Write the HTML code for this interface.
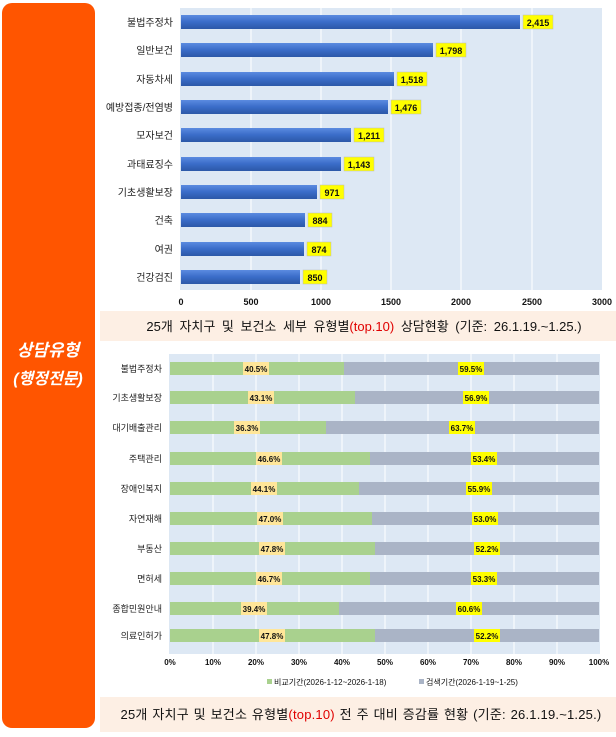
<!DOCTYPE html>
<html><head><meta charset="utf-8"><style>
body{margin:0;background:#fff;width:616px;height:732px;overflow:hidden;font-family:"Liberation Sans","Noto Sans CJK KR",sans-serif}
</style></head><body>
<svg width="616" height="732" xmlns="http://www.w3.org/2000/svg" font-family="Liberation Sans, Noto Sans CJK KR, sans-serif">
<defs>
<linearGradient id="bg1" x1="0" y1="0" x2="0" y2="1"><stop offset="0" stop-color="#5b8be0"/><stop offset="0.5" stop-color="#3a6cc8"/><stop offset="1" stop-color="#2c58a8"/></linearGradient>
</defs>
<rect x="2" y="3" width="93" height="725" rx="10" fill="#ff5500"/>
<text x="48" y="356" fill="#fff" font-size="17" font-weight="bold" font-style="italic" text-anchor="middle">상담유형</text>
<text x="48" y="384" fill="#fff" font-size="16" font-weight="bold" font-style="italic" text-anchor="middle">(행정전문)</text>

<rect x="180" y="8" width="422" height="282" fill="#dde8f4"/>
<g stroke="#fff" stroke-width="1">
<line x1="251" y1="8" x2="251" y2="290"/><line x1="321" y1="8" x2="321" y2="290"/><line x1="391" y1="8" x2="391" y2="290"/><line x1="461" y1="8" x2="461" y2="290"/><line x1="532" y1="8" x2="532" y2="290"/>
</g>
<g font-size="10" fill="#222" text-anchor="end">
<text x="173" y="26">불법주정차</text><text x="173" y="54">일반보건</text><text x="173" y="83">자동차세</text><text x="173" y="111">예방접종/전염병</text><text x="173" y="139">모자보건</text><text x="173" y="168">과태료징수</text><text x="173" y="196">기초생활보장</text><text x="173" y="224">건축</text><text x="173" y="253">여권</text><text x="173" y="281">건강검진</text>
</g>
<g fill="url(#bg1)">
<rect x="181" y="15" width="339" height="14"/><rect x="181" y="43" width="252" height="14"/><rect x="181" y="72" width="213" height="14"/><rect x="181" y="100" width="207" height="14"/><rect x="181" y="128" width="170" height="14"/><rect x="181" y="157" width="160" height="14"/><rect x="181" y="185" width="136" height="14"/><rect x="181" y="213" width="124" height="14"/><rect x="181" y="242" width="123" height="14"/><rect x="181" y="270" width="119" height="14"/>
</g>
<g fill="#ffff00" stroke="#bbb" stroke-width="0.5">
<rect x="523" y="15" width="30" height="14"/><rect x="436" y="43" width="30" height="14"/><rect x="397" y="72" width="30" height="14"/><rect x="391" y="100" width="30" height="14"/><rect x="354" y="128" width="30" height="14"/><rect x="344" y="157" width="30" height="14"/><rect x="320" y="185" width="24" height="14"/><rect x="308" y="213" width="24" height="14"/><rect x="307" y="242" width="24" height="14"/><rect x="303" y="270" width="24" height="14"/>
</g>
<g font-size="9" font-weight="bold" fill="#111" text-anchor="middle">
<text x="538" y="26">2,415</text><text x="451" y="54">1,798</text><text x="412" y="83">1,518</text><text x="406" y="111">1,476</text><text x="369" y="139">1,211</text><text x="359" y="168">1,143</text><text x="332" y="196">971</text><text x="320" y="224">884</text><text x="319" y="253">874</text><text x="315" y="281">850</text>
</g>
<g font-size="9" font-weight="bold" fill="#111" text-anchor="middle">
<text x="181" y="305">0</text><text x="251" y="305">500</text><text x="321" y="305">1000</text><text x="391" y="305">1500</text><text x="461" y="305">2000</text><text x="532" y="305">2500</text><text x="602" y="305">3000</text>
</g>
<rect x="100" y="311" width="516" height="30" fill="#fdefe4"/>
<text x="364" y="331" font-size="13" text-anchor="middle" fill="#111" word-spacing="3">25개 자치구 및 보건소 세부 유형별<tspan fill="#e00000">(top.10)</tspan> 상담현황  (기준: 26.1.19.~1.25.)</text>

<rect x="169" y="354" width="431" height="300" fill="#dde8f4"/>
<g stroke="#fff" stroke-width="1">
<line x1="213" y1="354" x2="213" y2="654"/><line x1="256" y1="354" x2="256" y2="654"/><line x1="299" y1="354" x2="299" y2="654"/><line x1="342" y1="354" x2="342" y2="654"/><line x1="385" y1="354" x2="385" y2="654"/><line x1="428" y1="354" x2="428" y2="654"/><line x1="471" y1="354" x2="471" y2="654"/><line x1="514" y1="354" x2="514" y2="654"/><line x1="557" y1="354" x2="557" y2="654"/>
</g>
<g font-size="9" fill="#222" text-anchor="end">
<text x="162" y="372">불법주정차</text><text x="162" y="401">기초생활보장</text><text x="162" y="431">대기배출관리</text><text x="162" y="462">주택관리</text><text x="162" y="492">장애인복지</text><text x="162" y="522">자연재해</text><text x="162" y="552">부동산</text><text x="162" y="582">면허세</text><text x="162" y="612">종합민원안내</text><text x="162" y="639">의료인허가</text>
</g>
<g>
<rect x="170" y="362" width="429" height="13" fill="#aab4c6"/><rect x="170" y="362" width="174" height="13" fill="#a9d18e"/>
<rect x="170" y="391" width="429" height="13" fill="#aab4c6"/><rect x="170" y="391" width="185" height="13" fill="#a9d18e"/>
<rect x="170" y="421" width="429" height="13" fill="#aab4c6"/><rect x="170" y="421" width="156" height="13" fill="#a9d18e"/>
<rect x="170" y="452" width="429" height="13" fill="#aab4c6"/><rect x="170" y="452" width="200" height="13" fill="#a9d18e"/>
<rect x="170" y="482" width="429" height="13" fill="#aab4c6"/><rect x="170" y="482" width="189" height="13" fill="#a9d18e"/>
<rect x="170" y="512" width="429" height="13" fill="#aab4c6"/><rect x="170" y="512" width="202" height="13" fill="#a9d18e"/>
<rect x="170" y="542" width="429" height="13" fill="#aab4c6"/><rect x="170" y="542" width="205" height="13" fill="#a9d18e"/>
<rect x="170" y="572" width="429" height="13" fill="#aab4c6"/><rect x="170" y="572" width="200" height="13" fill="#a9d18e"/>
<rect x="170" y="602" width="429" height="13" fill="#aab4c6"/><rect x="170" y="602" width="169" height="13" fill="#a9d18e"/>
<rect x="170" y="629" width="429" height="13" fill="#aab4c6"/><rect x="170" y="629" width="205" height="13" fill="#a9d18e"/>
</g>
<g font-size="8" font-weight="bold" fill="#111" text-anchor="middle">
<g fill="#ffe699"><rect x="243" y="362" width="26" height="13"/><rect x="248" y="391" width="26" height="13"/><rect x="234" y="421" width="26" height="13"/><rect x="256" y="452" width="26" height="13"/><rect x="251" y="482" width="26" height="13"/><rect x="257" y="512" width="26" height="13"/><rect x="259" y="542" width="26" height="13"/><rect x="256" y="572" width="26" height="13"/><rect x="241" y="602" width="26" height="13"/><rect x="259" y="629" width="26" height="13"/></g>
<g fill="#ffff00"><rect x="458" y="362" width="26" height="13"/><rect x="463" y="391" width="26" height="13"/><rect x="449" y="421" width="26" height="13"/><rect x="471" y="452" width="26" height="13"/><rect x="466" y="482" width="26" height="13"/><rect x="472" y="512" width="26" height="13"/><rect x="474" y="542" width="26" height="13"/><rect x="471" y="572" width="26" height="13"/><rect x="456" y="602" width="26" height="13"/><rect x="474" y="629" width="26" height="13"/></g>
<text x="256" y="372">40.5%</text><text x="471" y="372">59.5%</text>
<text x="261" y="401">43.1%</text><text x="476" y="401">56.9%</text>
<text x="247" y="431">36.3%</text><text x="462" y="431">63.7%</text>
<text x="269" y="462">46.6%</text><text x="484" y="462">53.4%</text>
<text x="264" y="492">44.1%</text><text x="479" y="492">55.9%</text>
<text x="270" y="522">47.0%</text><text x="485" y="522">53.0%</text>
<text x="272" y="552">47.8%</text><text x="487" y="552">52.2%</text>
<text x="269" y="582">46.7%</text><text x="484" y="582">53.3%</text>
<text x="254" y="612">39.4%</text><text x="469" y="612">60.6%</text>
<text x="272" y="639">47.8%</text><text x="487" y="639">52.2%</text>
</g>
<g font-size="8" font-weight="bold" fill="#111" text-anchor="middle">
<text x="170" y="665">0%</text><text x="213" y="665">10%</text><text x="256" y="665">20%</text><text x="299" y="665">30%</text><text x="342" y="665">40%</text><text x="385" y="665">50%</text><text x="428" y="665">60%</text><text x="471" y="665">70%</text><text x="514" y="665">80%</text><text x="557" y="665">90%</text><text x="599" y="665">100%</text>
</g>
<rect x="267" y="679" width="5" height="5" fill="#a9d18e"/>
<text x="274" y="685" font-size="8" fill="#111">비교기간(2026-1-12~2026-1-18)</text>
<rect x="419" y="679" width="5" height="5" fill="#aab4c6"/>
<text x="426" y="685" font-size="8" fill="#111">검색기간(2026-1-19~1-25)</text>
<rect x="100" y="697" width="516" height="35" fill="#fdefe4"/>
<text x="361" y="719" font-size="13" text-anchor="middle" fill="#111" letter-spacing="0.2" word-spacing="1">25개 자치구 및 보건소 유형별<tspan fill="#e00000">(top.10)</tspan> 전 주 대비 증감률 현황 (기준: 26.1.19.~1.25.)</text>
</svg>
</body></html>
